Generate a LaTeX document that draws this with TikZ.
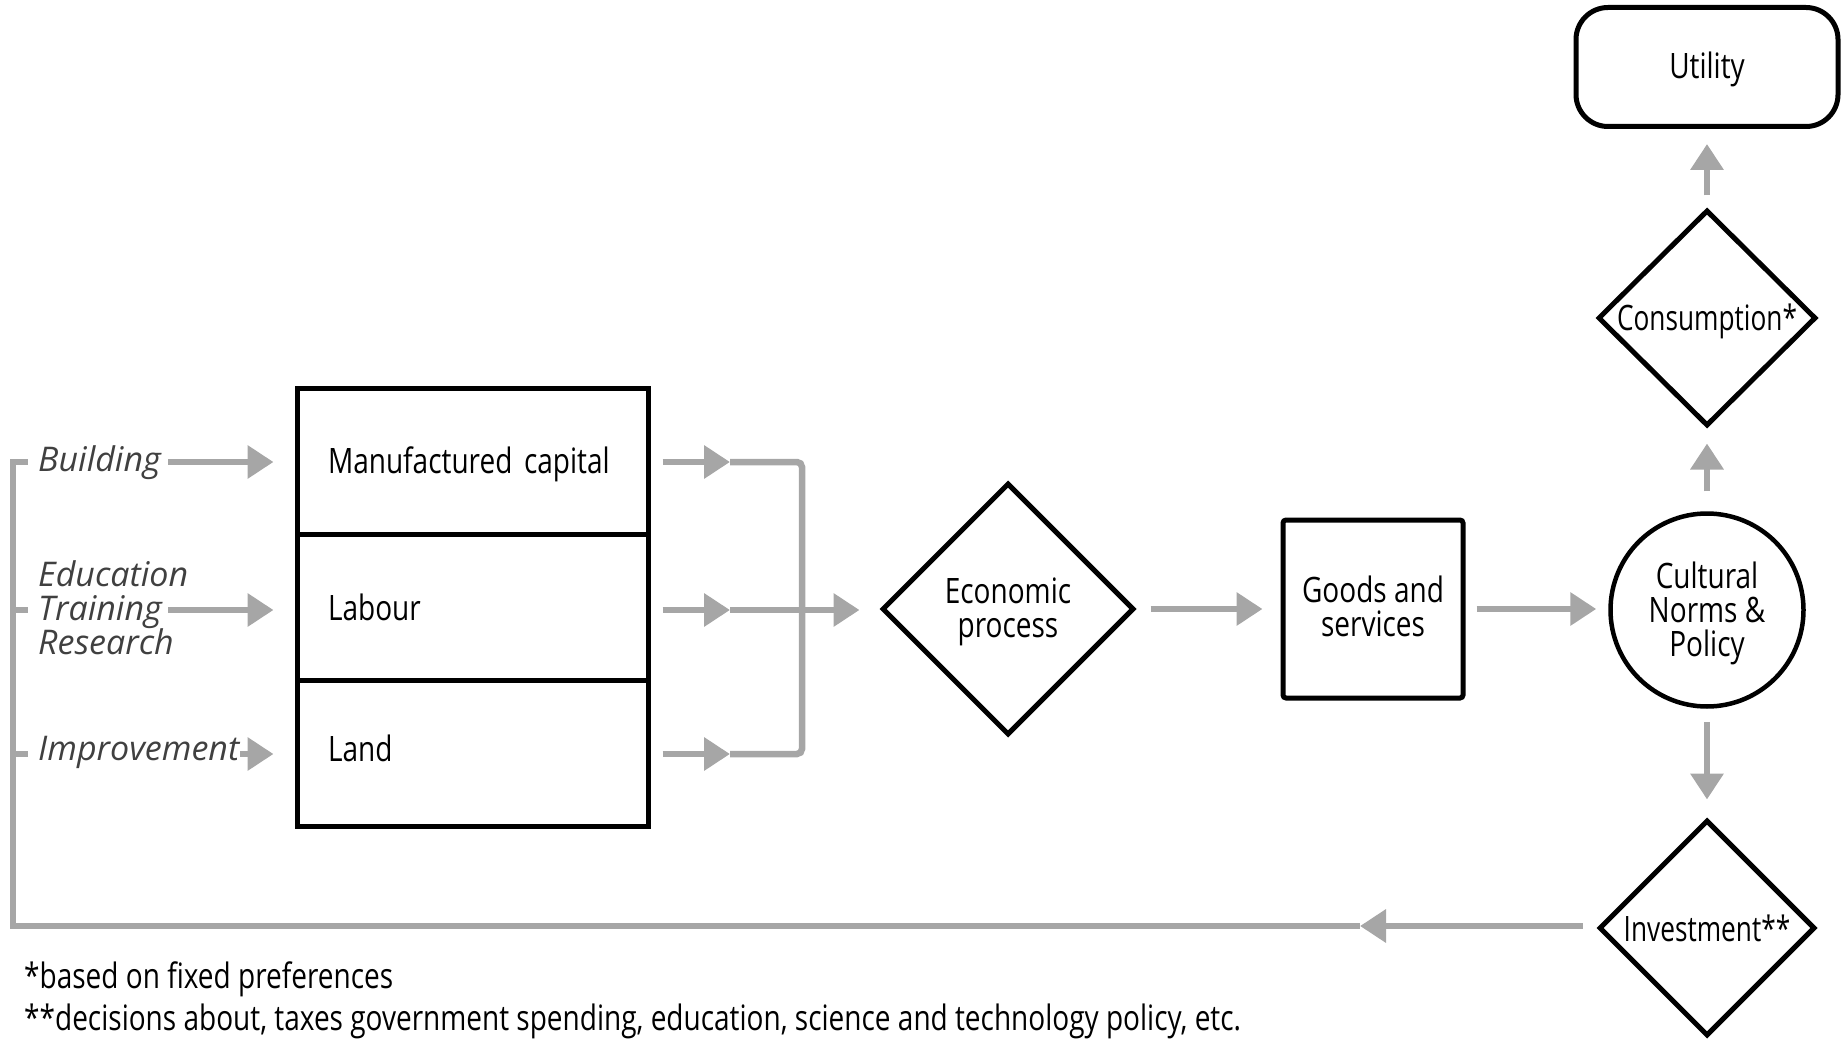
\documentclass[tikz,border=0pt]{standalone}
\usepackage{fontspec}
\setmainfont{Open Sans}[FakeStretch=0.8]
\newfontfamily\labelfont{Open Sans}
\newfontfamily\narrowfont{Open Sans}[FakeStretch=0.75]
\usetikzlibrary{arrows.meta,shapes.geometric}
\definecolor{garrow}{HTML}{A6A6A6}
\definecolor{labelgrey}{HTML}{404040}
\tikzset{
  gline/.style={draw=garrow, line width=6.5pt},
  garr/.style={gline, -{Triangle[length=26pt,width=32pt]}},
  bbox/.style={draw=black, line width=5pt, rectangle, inner sep=0pt},
  ddia/.style={draw=black, line width=5pt, diamond, aspect=1, inner sep=0pt},
  maintext/.style={font=\fontsize{35}{34}\selectfont, text=black, inner sep=0pt, align=center},
  itlabel/.style={font=\labelfont\itshape\fontsize{34}{34}\selectfont, text=labelgrey, inner sep=0pt, align=left, anchor=west},
  cellbox/.style={bbox, minimum height=146pt, text width=289pt, inner xsep=31pt, align=left, font=\fontsize{35}{34}\selectfont},
}
\begin{document}
\begin{tikzpicture}[x=1pt,y=-1pt]
\useasboundingbox (0,0) rectangle (1844,1040);

% capital stock boxes
\node[cellbox] (mc) at (472.5,461) {\raisebox{-3.5pt}[\height][\depth]{Manufactured capital}};
\node[cellbox] (lab) at (472.5,607) {Labour};
\node[cellbox] (land) at (472.5,753.5) {\raisebox{5.5pt}[\height][\depth]{Land}};

% investment labels
\node[itlabel] (bld) at (38,463) {Building};
\node[itlabel] (edu) at (38,608) {Education\\Training\\Research};
\node[itlabel] (imp) at (38,752) {Improvement};

% main nodes
\node[ddia, minimum width=252pt, minimum height=252pt] (econ) at (1008,609) {};
\node[maintext] (econT) at (1008,612) {Economic\\process};
\node[bbox, rounded corners=3pt, minimum width=180pt, minimum height=178pt] (goods) at (1373,609) {};
\node[maintext] (goodsT) at (1373,606.5) {Goods and\\services};
\node[circle, draw=black, line width=4.5pt, minimum size=193pt, inner sep=0pt] (cult) at (1707,610) {};
\node[maintext] (cultT) at (1707,613.5) {Cultural\\Norms \&\\Policy};
\node[ddia, minimum width=218pt, minimum height=216pt] (cons) at (1707,318) {};
\node[maintext, font=\narrowfont\fontsize{35}{34}\selectfont] (consT) at (1707,321) {Consumption*};
\node[bbox, rounded corners=32pt, minimum width=262pt, minimum height=119pt] (util) at (1707,67) {};
\node[maintext] (utilT) at (1707,69.5) {Utility};
\node[ddia, minimum width=216pt, minimum height=216pt] (inv) at (1707,928) {};
\node[maintext, font=\narrowfont\fontsize{35}{34}\selectfont] (invT) at (1707,928) {Investment**};

% footnotes
\node[maintext, anchor=base west] (fn1) at (24,988) {*based on fixed preferences};
\node[maintext, anchor=base west] (fn2) at (24,1030) {**decisions about, taxes government spending, education, science and technology policy, etc.};

% coordinates
\coordinate (eduA) at (168,610);
\coordinate (j1) at (730,462);
\coordinate (j2) at (730,610);
\coordinate (j3) at (730,754);
\coordinate (jt) at (802,462);
\coordinate (jb) at (802,754);
\coordinate (fbm) at (1360,926);
\coordinate (fbc) at (13,926);
\coordinate (fbt) at (13,462);
\coordinate (t1) at (28,462);
\coordinate (t2a) at (13,610);
\coordinate (t2) at (28,610);
\coordinate (t3a) at (13,754);
\coordinate (t3) at (28,754);

% left arrows
\draw[garr, shorten <=7pt, shorten >=21pt] (bld.east |- t1) -- (t1 -| mc.west);
\draw[garr, shorten >=21pt] (eduA) -- (eduA -| lab.west);
\draw[garr, shorten <=1pt, shorten >=21pt] (imp.east |- t3) -- (t3 -| land.west);

% right arrows to joiner
\draw[garr, shorten <=12pt] (mc.east |- j1) -- (j1);
\draw[garr, shorten <=12pt] (lab.east |- j2) -- (j2);
\draw[garr, shorten <=12pt] (land.east |- j3) -- (j3);
\draw[gline, rounded corners=5pt] (j1) -- (jt) -- (jb) -- (j3);
\draw[garr, shorten >=20pt] (j2) -- (j2 -| econ.west);

% chain
\draw[garr, shorten <=14pt, shorten >=18pt] (econ.east) -- (econ.east -| goods.west);
\draw[garr, shorten <=11pt, shorten >=12pt] (goods.east) -- (goods.east -| cult.west);
\draw[garr, shorten <=20pt, shorten >=15pt] (cult.north) -- (cons.south);
\draw[garr, shorten <=12pt, shorten >=15pt] (cons.north) -- (util.south);
\draw[garr, shorten <=13pt, shorten >=18pt] (cult.south) -- (inv.north);

% feedback loop
\draw[garr, shorten <=14pt] (inv.west |- fbm) -- (fbm);
\draw[gline, line join=miter] (fbm) -- (fbc) -- (fbt) -- (t1);
\draw[gline] (t2a) -- (t2);
\draw[gline] (t3a) -- (t3);
\end{tikzpicture}
\end{document}
